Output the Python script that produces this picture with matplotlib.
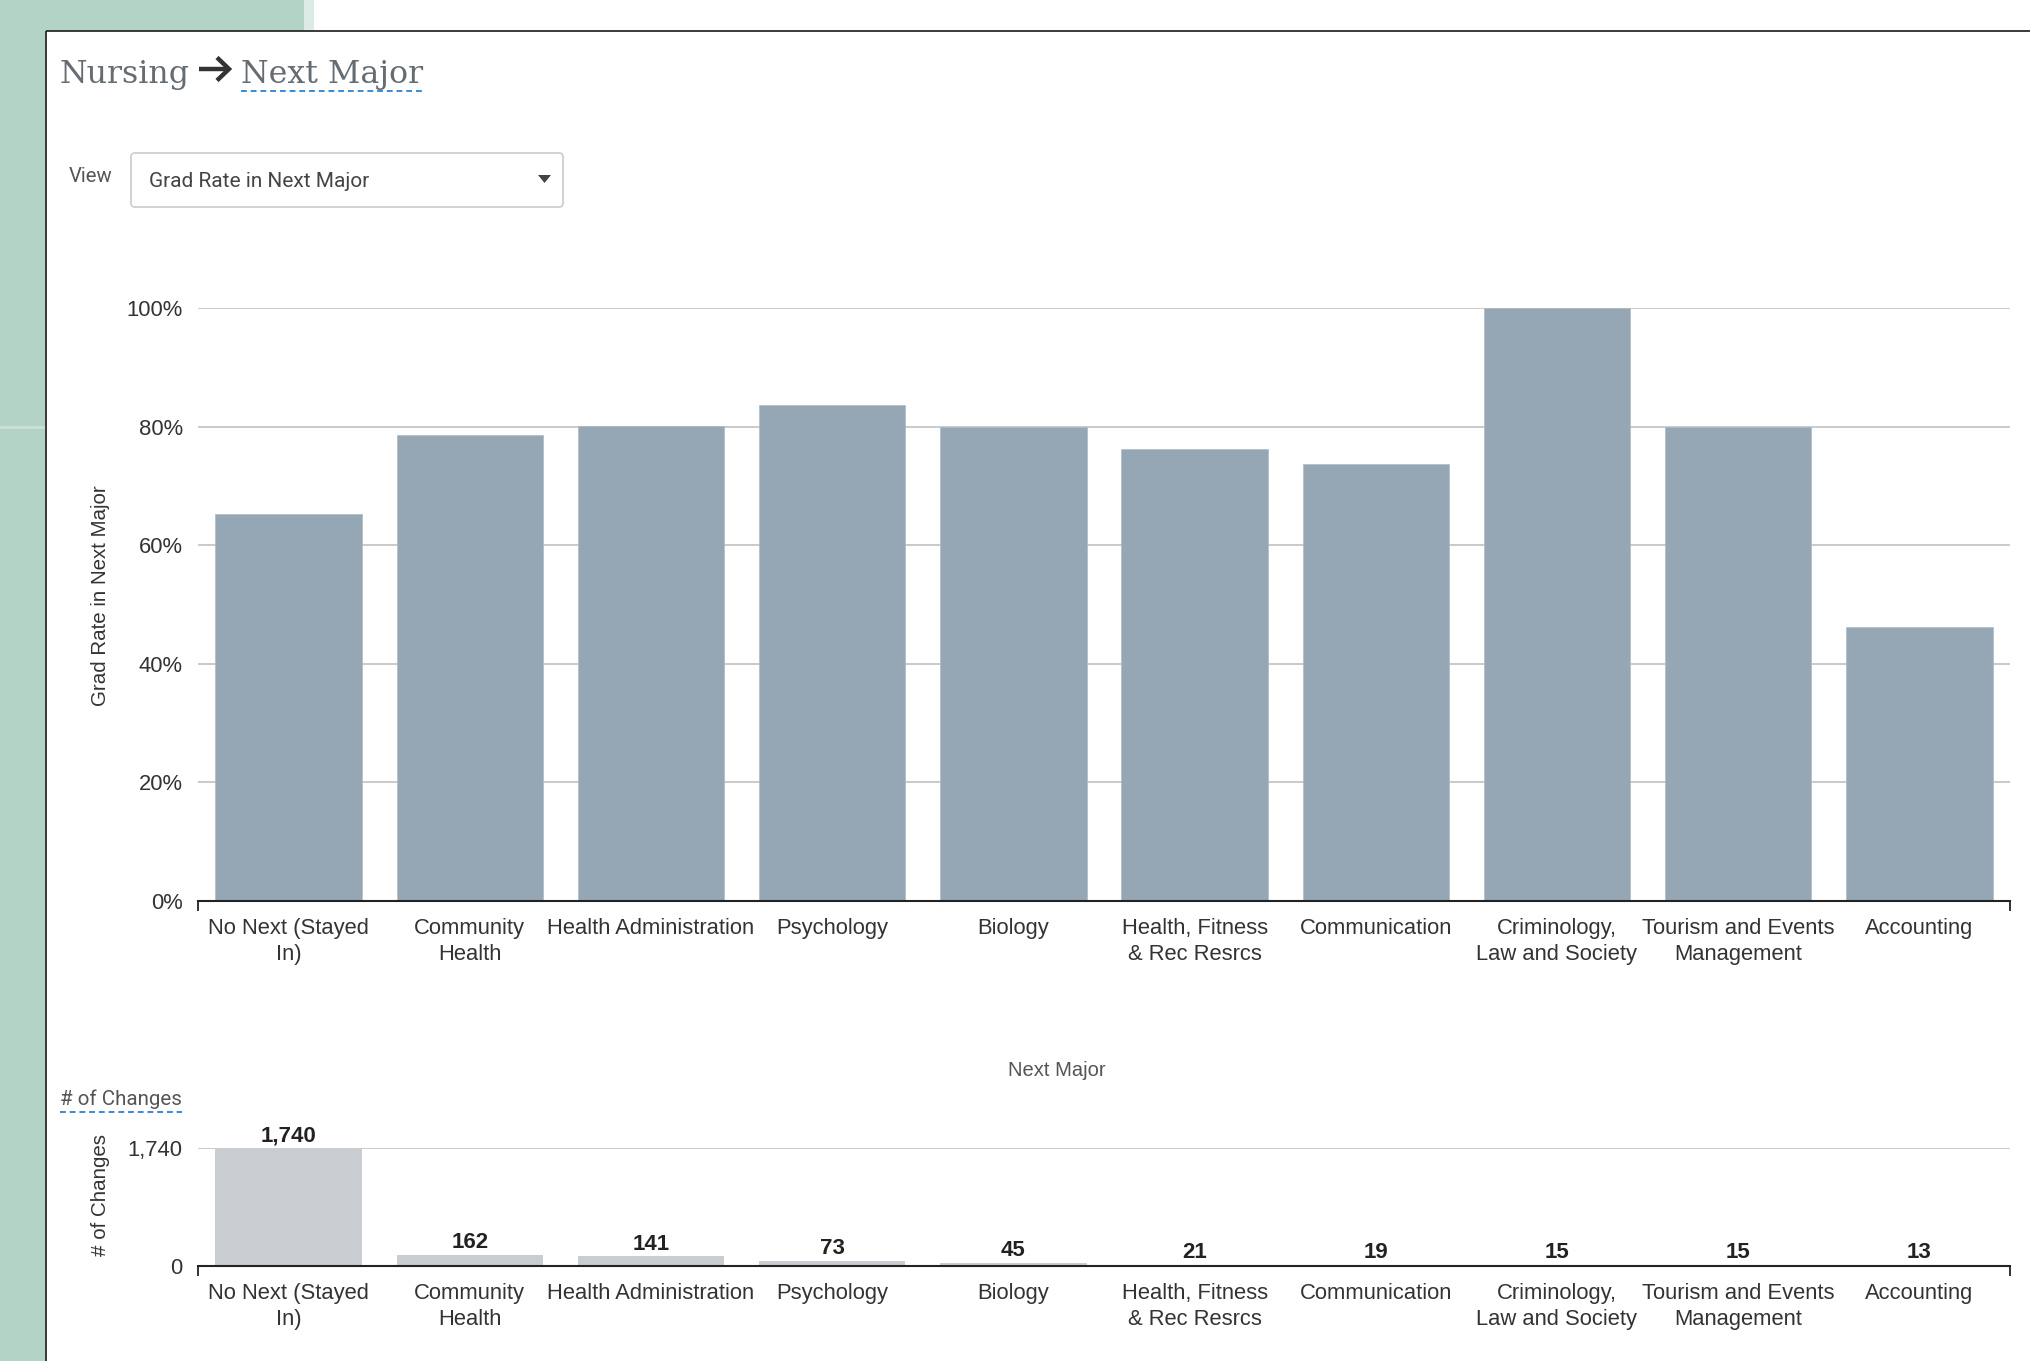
import matplotlib
matplotlib.use("Agg")
import matplotlib.pyplot as plt
from matplotlib.patches import FancyBboxPatch, Rectangle, Polygon
from matplotlib.ticker import FixedLocator

# ---------------- data ----------------
categories = ["No Next (Stayed\nIn)", "Community\nHealth", "Health Administration",
              "Psychology", "Biology", "Health, Fitness\n& Rec Resrcs", "Communication",
              "Criminology,\nLaw and Society", "Tourism and Events\nManagement", "Accounting"]
grad_rate = [65.3, 78.6, 80.1, 83.6, 80.0, 76.2, 73.7, 100.0, 80.0, 46.2]
num_changes = [1740, 162, 141, 73, 45, 21, 19, 15, 15, 13]
rate_ticks = [0, 20, 40, 60, 80, 100]
rate_tick_labels = ["0%", "20%", "40%", "60%", "80%", "100%"]
change_ticks = [0, 1740]
change_tick_labels = ["0", "1,740"]
change_value_labels = ["1,740", "162", "141", "73", "45", "21", "19", "15", "15", "13"]

# ---------------- styles ----------------
W, H = 2030, 1361
SANS = "Liberation Sans"
GREEN = "#b2d3c5"
BAR_TOP = "#95a6b4"
BAR_BOT = "#c9ccd0"
GRID = "#c6c6c6"
TXT = "#333333"

fig = plt.figure(figsize=(W / 100, H / 100), dpi=100)
fig.patch.set_facecolor("white")

# background / decoration layer in pixel coordinates
bg = fig.add_axes([0, 0, 1, 1])
bg.set_xlim(0, W)
bg.set_ylim(H, 0)
bg.axis("off")
bg.add_patch(Rectangle((0, 0), 46, H, color=GREEN, lw=0))
bg.add_patch(Rectangle((0, 0), 304, 31, color=GREEN, lw=0))
bg.add_patch(Rectangle((304, 0), 10, 31, color="#dcebe5", lw=0))
bg.add_patch(Rectangle((0, 426), 46, 3, color="#c8dfd5", lw=0))
bg.plot([46.5, 46.5], [30.5, H], color="#2b2b2b", lw=1.3, solid_capstyle="butt")
bg.plot([46.5, W], [30.5, 30.5], color="#2b2b2b", lw=1.3, solid_capstyle="butt")

# title
t1 = bg.text(60, 83, "Nursing", fontsize=22.8, family="DejaVu Serif", color="#646d73",
             va="baseline", ha="left")
# arrow glyph drawn as strokes
bg.plot([199, 228], [69, 69], color="#333333", lw=3.2, solid_capstyle="butt")
bg.plot([217, 229, 217], [57.5, 69, 80.5], color="#333333", lw=3.2,
        solid_joinstyle="miter", solid_capstyle="butt")
t2 = bg.text(241, 83, "Next Major", fontsize=22.8, family="DejaVu Serif", color="#646d73",
             va="baseline", ha="left")

# view dropdown
bg.text(69, 176, "View", fontsize=14.6, family="Roboto", color="#555555", va="center", ha="left")
bg.add_patch(FancyBboxPatch((131, 153), 432, 54, boxstyle="round,pad=0,rounding_size=4",
                            facecolor="white", edgecolor="#cfcfcf", lw=1.3))
bg.text(149, 181, "Grad Rate in Next Major", fontsize=15.0, family="Roboto", color="#444444",
        va="center", ha="left")
bg.add_patch(Polygon([[538, 175], [551, 175], [544.5, 183]], closed=True, color="#444444", lw=0))

# section header and x label
t3 = bg.text(60, 1099, "# of Changes", fontsize=14.8, family="Roboto", color="#555555",
             va="center", ha="left")
bg.text(1057, 1071, "Next Major", fontsize=14.5, family=SANS, color="#555555",
        va="center", ha="center")

# dashed underlines (after measuring text)
fig.canvas.draw()
inv = bg.transData.inverted()
for t, y in ((t2, 91), (t3, 1112)):
    bb = t.get_window_extent()
    x0 = inv.transform((bb.x0, bb.y0))[0]
    x1 = inv.transform((bb.x1, bb.y0))[0]
    bg.plot([x0, x1], [y, y], color="#3a8ad6", lw=1.4, ls=(0, (3, 2)))

LABEL_X = (110 - 198) / (2010 - 198)

# ---------------- main chart ----------------
x = list(range(len(categories)))
ax = fig.add_axes([198 / W, 1 - 901 / H, (2010 - 198) / W, (901 - 308) / H])
ax.set_facecolor("none")
ax.bar(x, grad_rate, width=0.807, color=BAR_TOP, zorder=2, edgecolor="#aebbc6", lw=0.5)
ax.set_xlim(-0.5, len(categories) - 0.5)
ax.set_ylim(0, 100)
ax.set_yticks(rate_ticks)
ax.set_yticklabels(rate_tick_labels, family=SANS, fontsize=15.8, color=TXT)
ax.yaxis.grid(True, color=GRID, lw=1.3, zorder=1)
ax.set_axisbelow(True)
ax.tick_params(axis="y", length=0, pad=11)
ax.set_xticks(x)
ax.set_xticklabels(categories, family=SANS, fontsize=15.8, color=TXT, linespacing=1.3)
ax.tick_params(axis="x", which="major", length=0, pad=12.5)
ax.xaxis.set_minor_locator(FixedLocator([-0.5, len(categories) - 0.5]))
ax.tick_params(axis="x", which="minor", length=7, width=1.3, color="#222222", direction="out")
for s in ("top", "right", "left"):
    ax.spines[s].set_visible(False)
ax.spines["bottom"].set_color("#222222")
ax.spines["bottom"].set_linewidth(1.5)
ax.set_ylabel("Grad Rate in Next Major", family=SANS, fontsize=14.8, color=TXT)
ax.yaxis.set_label_coords(LABEL_X, 0.5 + (901 - 596 - (901 - 308) / 2) / (901 - 308))

# ---------------- bottom chart ----------------
ax2 = fig.add_axes([198 / W, 1 - 1266 / H, (2010 - 198) / W, (1266 - 1148) / H])
ax2.set_facecolor("none")
ax2.bar(x, num_changes, width=0.807, color=BAR_BOT, zorder=2)
ax2.set_xlim(-0.5, len(categories) - 0.5)
ax2.set_ylim(0, max(num_changes))
ax2.set_yticks(change_ticks)
ax2.set_yticklabels(change_tick_labels, family=SANS, fontsize=15.8, color=TXT)
ax2.yaxis.grid(True, color=GRID, lw=1.3, zorder=1)
ax2.set_axisbelow(True)
ax2.tick_params(axis="y", length=0, pad=11)
ax2.set_xticks(x)
ax2.set_xticklabels(categories, family=SANS, fontsize=15.8, color=TXT, linespacing=1.3)
ax2.tick_params(axis="x", which="major", length=0, pad=12.5)
ax2.xaxis.set_minor_locator(FixedLocator([-0.5, len(categories) - 0.5]))
ax2.tick_params(axis="x", which="minor", length=7, width=1.3, color="#222222", direction="out")
for s in ("top", "right", "left"):
    ax2.spines[s].set_visible(False)
ax2.spines["bottom"].set_color("#222222")
ax2.spines["bottom"].set_linewidth(1.5)
ax2.set_ylabel("# of Changes", family=SANS, fontsize=14.8, color=TXT)
ax2.yaxis.set_label_coords(LABEL_X, 0.6)
for xi, v, lab in zip(x, num_changes, change_value_labels):
    ax2.annotate(lab, (xi, v), xytext=(0, 1.2), textcoords="offset points", ha="center",
                 va="bottom", family=SANS, fontsize=16, fontweight="bold", color="#222222",
                 annotation_clip=False)

fig.savefig("out.png", dpi=100, facecolor="white")
